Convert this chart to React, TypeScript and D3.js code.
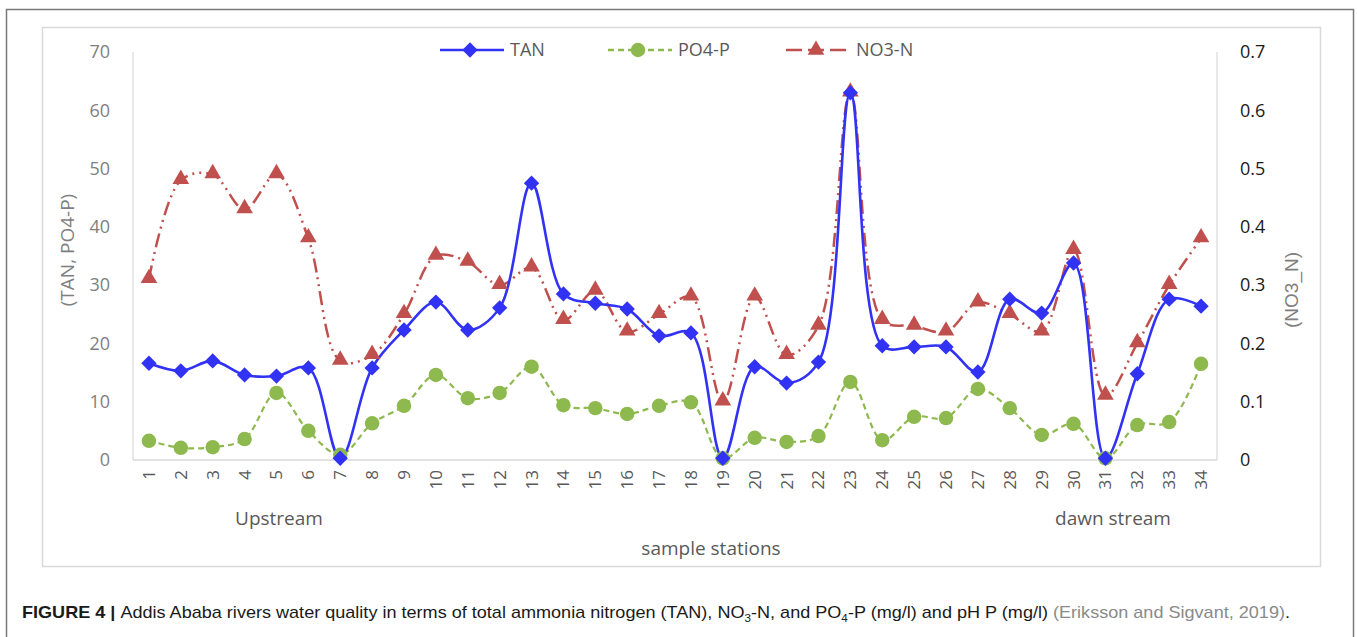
import React, { useEffect } from "react";
import * as d3 from "d3";

const stations = d3.range(1, 35).map(String);
const tan = [16.6, 15.3, 17.0, 14.6, 14.4, 15.8, 0.3, 15.8, 22.3, 27.1, 22.3, 26.1, 47.5, 28.5, 26.9, 25.9, 21.3, 21.8, 0.3, 16.0, 13.2, 16.8, 63.0, 19.6, 19.4, 19.4, 15.1, 27.6, 25.2, 33.8, 0.3, 14.8, 27.6, 26.4];
const po4 = [3.3, 2.1, 2.2, 3.6, 11.5, 5.0, 0.9, 6.3, 9.3, 14.6, 10.6, 11.5, 16.0, 9.4, 8.9, 7.9, 9.3, 9.9, 0.3, 3.8, 3.1, 4.1, 13.4, 3.4, 7.4, 7.2, 12.2, 8.9, 4.3, 6.2, 0.3, 6.0, 6.5, 16.5];
const no3 = [0.31, 0.48, 0.49, 0.43, 0.49, 0.38, 0.17, 0.18, 0.25, 0.35, 0.34, 0.30, 0.33, 0.24, 0.29, 0.22, 0.25, 0.28, 0.10, 0.28, 0.18, 0.23, 0.63, 0.24, 0.23, 0.22, 0.27, 0.25, 0.22, 0.36, 0.11, 0.20, 0.30, 0.38];
const leftTicks = [0, 10, 20, 30, 40, 50, 60, 70];
const rightTicks = [0, 0.1, 0.2, 0.3, 0.4, 0.5, 0.6, 0.7];

const W = 1357, H = 637;
const PL = 133, PR = 1217, PT = 52, PB = 460;
const FONT = "'Open Sans', sans-serif";

const x = d3.scaleBand<string>().domain(stations).range([PL, PR]);
const cx = (s: string) => (x(s) as number) + x.bandwidth() / 2;
const yL = d3.scaleLinear().domain([0, 70]).range([PB, PT]);
const yR = d3.scaleLinear().domain([0, 0.7]).range([PB, PT]);

const BLUE = "#3232f5";
const GREEN = "#8db94e";
const RED = "#c0504d";

function line(vals: number[], y: d3.ScaleLinear<number, number>) {
  return d3
    .line<number>()
    .x((_, i) => cx(stations[i]))
    .y((v) => y(v))
    .curve(d3.curveCatmullRom.alpha(0.5))(vals) as string;
}

const diamond = d3.symbol(d3.symbolDiamond2, 150)() as string;
const circle = d3.symbol(d3.symbolCircle, 165)() as string;
const triangle = d3.symbol(d3.symbolTriangle, 120)() as string;

const NO3DASH = "14,5,2,5,2,5";
const PODASH = "6,4";

export default function App() {
  useEffect(() => {
    document.body.style.margin = "0";
  }, []);
  const legend = [
    { name: "TAN", x0: 440, color: BLUE, dash: undefined, sym: diamond },
    { name: "PO4-P", x0: 608, color: GREEN, dash: PODASH, sym: circle },
    { name: "NO3-N", x0: 786, color: RED, dash: "16,6", sym: triangle },
  ];
  return (
    <svg width={W} height={H} style={{ display: "block", background: "#fff" }}>
      <rect x={6.5} y={9.5} width={1347} height={640} fill="none" stroke="#7a7a7a" strokeWidth={1.5} />
      <rect x={42.5} y={27.5} width={1278} height={539} fill="none" stroke="#d9d9d9" strokeWidth={1.5} />
      {/* axes lines */}
      <line x1={PL} x2={PL} y1={PT} y2={PB} stroke="#d9d9d9" strokeWidth={1.2} />
      <line x1={PR} x2={PR} y1={PT} y2={PB} stroke="#d9d9d9" strokeWidth={1.2} />
      <line x1={PL} x2={PR} y1={PB} y2={PB} stroke="#d9d9d9" strokeWidth={1.5} />
      {/* left ticks */}
      {leftTicks.map((t) => (
        <text key={"l" + t} x={110} y={yL(t)} dy="0.35em" textAnchor="end" fontFamily={FONT} fontSize={18} fill="#7f7f7f">
          {t}
        </text>
      ))}
      {rightTicks.map((t) => (
        <text key={"r" + t} x={1240} y={yR(t)} dy="0.35em" textAnchor="start" fontFamily={FONT} fontSize={18} fill="#1a1a1a">
          {t === 0 ? "0" : d3.format(".1f")(t)}
        </text>
      ))}
      {/* x tick labels */}
      {stations.map((s) => (
        <text key={"x" + s} transform={`translate(${cx(s) + 6},${470}) rotate(-90)`} textAnchor="end" fontFamily={FONT} fontSize={17} fill="#595959">
          {s}
        </text>
      ))}
      {/* axis titles */}
      <text transform={`translate(74,${(PT + PB) / 2 - 6}) rotate(-90)`} textAnchor="middle" fontFamily={FONT} fontSize={19} fill="#7f7f7f">
        (TAN, PO4-P)
      </text>
      <text transform={`translate(1298,${(PT + PB) / 2 + 34}) rotate(-90)`} textAnchor="middle" fontFamily="'Liberation Sans', Arial, sans-serif" fontSize={19} fill="#7f7f7f">
        (NO3_N)
      </text>
      <text x={279} y={525} textAnchor="middle" fontFamily={FONT} fontSize={19} fill="#595959">Upstream</text>
      <text x={1113} y={525} textAnchor="middle" fontFamily={FONT} fontSize={19} fill="#595959">dawn stream</text>
      <text x={711} y={555} textAnchor="middle" fontFamily={FONT} fontSize={19} fill="#595959">sample stations</text>
      {/* lines */}
      <path d={line(po4, yL)} fill="none" stroke={GREEN} strokeWidth={2.2} strokeDasharray={PODASH} />
      <path d={line(no3, yR)} fill="none" stroke={RED} strokeWidth={2.5} strokeDasharray={NO3DASH} />
      <path d={line(tan, yL)} fill="none" stroke={BLUE} strokeWidth={2.6} />
      {po4.map((v, i) => (
        <path key={"pm" + i} d={circle} transform={`translate(${cx(stations[i])},${yL(v)})`} fill={GREEN} />
      ))}
      {no3.map((v, i) => (
        <path key={"nm" + i} d={triangle} transform={`translate(${cx(stations[i])},${yR(v) - 1})`} fill={RED} />
      ))}
      {tan.map((v, i) => (
        <path key={"tm" + i} d={diamond} transform={`translate(${cx(stations[i])},${yL(v)})`} fill={BLUE} />
      ))}
      {/* legend */}
      {legend.map((l) => (
        <g key={l.name}>
          <line x1={l.x0} x2={l.x0 + 64} y1={50} y2={50} stroke={l.color} strokeWidth={2.5} strokeDasharray={l.dash} />
          <path d={l.sym} transform={`translate(${l.x0 + 30},${50})`} fill={l.color} />
          <text x={l.x0 + 70} y={50} dy="0.35em" fontFamily={FONT} fontSize={18} fill="#595959">
            {l.name}
          </text>
        </g>
      ))}
      {/* caption */}
      <text x={22} y={618} fontFamily="'Liberation Sans Narrow', 'Liberation Sans', Arial, sans-serif" fontSize={17} fill="#1a1a1a" textLength={1268} lengthAdjust="spacingAndGlyphs">
        <tspan fontWeight="bold">FIGURE 4 | </tspan>
        <tspan>Addis Ababa rivers water quality in terms of total ammonia nitrogen (TAN), NO</tspan>
        <tspan fontSize={11} dy={4}>3</tspan>
        <tspan dy={-4}>-N, and PO</tspan>
        <tspan fontSize={11} dy={4}>4</tspan>
        <tspan dy={-4}>-P (mg/l) and pH P (mg/l) </tspan>
        <tspan fill="#8a8a8a">(Eriksson and Sigvant, 2019)</tspan>
        <tspan>.</tspan>
      </text>
    </svg>
  );
}
